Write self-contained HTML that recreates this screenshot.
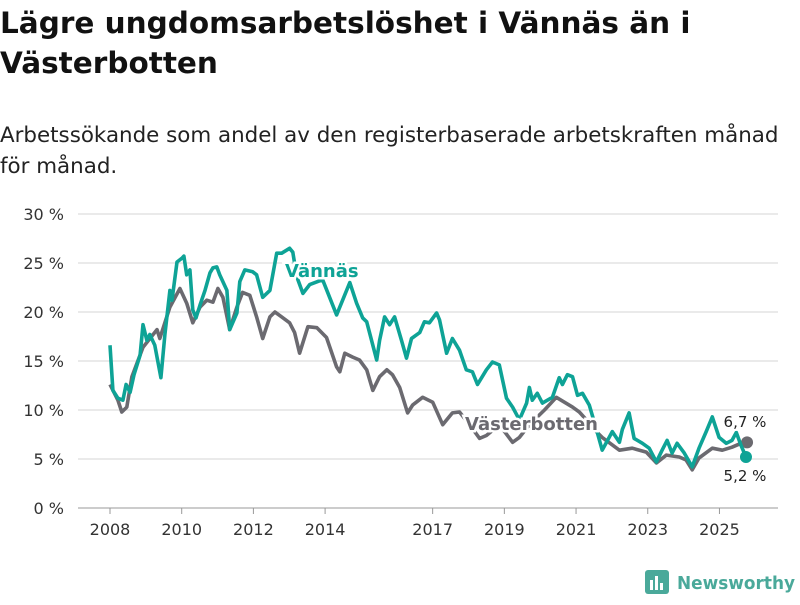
<!DOCTYPE html>
<html><head><meta charset="utf-8"><style>
body{margin:0;width:800px;height:600px;background:#fff;font-family:"Liberation Sans","DejaVu Sans",sans-serif;overflow:hidden}
</style></head><body>
<svg width="800" height="600" xmlns="http://www.w3.org/2000/svg" font-family="'DejaVu Sans','Liberation Sans',sans-serif">
<text x="0" y="33" font-size="29.5" font-weight="bold" fill="#111">Lägre ungdomsarbetslöshet i Vännäs än i</text>
<text x="0" y="73" font-size="29.5" font-weight="bold" fill="#111">Västerbotten</text>
<text x="0" y="142" font-size="21.4" fill="#222">Arbetssökande som andel av den registerbaserade arbetskraften månad</text>
<text x="0" y="173" font-size="21.4" fill="#222">för månad.</text>
<g id="grid"></g><g id="xaxis"></g><g id="series"></g><g id="labels"></g>
<g>
<rect x="645" y="570" width="24" height="24" rx="3" fill="#4aa99a"/>
<rect x="650" y="580" width="3" height="10" fill="#fff"/><rect x="655" y="576" width="3" height="14" fill="#fff"/><rect x="660" y="583" width="3" height="7" fill="#fff"/>
<text x="677" y="589" font-size="18" font-weight="bold" fill="#4aa99a" textLength="118" lengthAdjust="spacingAndGlyphs">Newsworthy</text></g>
</svg>
<script>
const yTicks=[0,5,10,15,20,25,30];
const xTicks=[2008,2010,2012,2014,2017,2019,2021,2023,2025];
const vDates=[2008.00,2008.08,2008.22,2008.36,2008.45,2008.56,2008.67,2008.84,2008.92,2009.03,2009.11,2009.25,2009.42,2009.53,2009.67,2009.73,2009.87,2010.01,2010.06,2010.14,2010.23,2010.31,2010.40,2010.51,2010.65,2010.79,2010.87,2010.98,2011.06,2011.26,2011.34,2011.54,2011.62,2011.76,2011.98,2012.09,2012.26,2012.46,2012.65,2012.79,2013.01,2013.10,2013.21,2013.38,2013.57,2013.93,2014.32,2014.69,2014.88,2015.05,2015.16,2015.44,2015.52,2015.66,2015.80,2015.94,2016.13,2016.27,2016.41,2016.64,2016.77,2016.91,2017.11,2017.19,2017.39,2017.55,2017.75,2017.94,2018.11,2018.25,2018.50,2018.67,2018.86,2019.06,2019.23,2019.42,2019.62,2019.70,2019.78,2019.92,2020.06,2020.34,2020.53,2020.62,2020.76,2020.90,2021.04,2021.18,2021.37,2021.57,2021.73,2022.01,2022.21,2022.29,2022.48,2022.62,2022.85,2023.04,2023.24,2023.40,2023.54,2023.68,2023.82,2024.02,2024.24,2024.43,2024.63,2024.80,2024.99,2025.19,2025.35,2025.47,2025.60,2025.74];
const vValues=[16.6,12.0,11.2,11.0,12.6,11.8,13.6,15.6,18.7,17.1,17.7,16.6,13.3,17.7,22.2,21.2,25.1,25.5,25.7,23.8,24.3,20.2,19.4,20.7,22.2,24.0,24.5,24.6,23.8,22.2,18.2,19.9,23.1,24.3,24.1,23.8,21.5,22.2,26.0,26.0,26.5,26.1,23.6,21.9,22.8,23.3,19.7,23.0,20.9,19.4,19.0,15.1,17.1,19.5,18.7,19.5,17.1,15.3,17.3,17.9,19.0,18.9,19.9,19.2,15.8,17.3,16.1,14.1,13.9,12.6,14.1,14.9,14.6,11.2,10.3,9.0,10.7,12.3,11.0,11.7,10.7,11.3,13.3,12.6,13.6,13.4,11.5,11.7,10.5,8.0,5.9,7.8,6.7,8.0,9.7,7.1,6.6,6.1,4.7,5.9,6.9,5.6,6.6,5.6,4.2,6.1,7.8,9.3,7.2,6.6,6.9,7.7,6.4,5.2];
const gDates=[2008.00,2008.22,2008.33,2008.47,2008.61,2008.92,2009.31,2009.39,2009.67,2009.95,2010.14,2010.31,2010.51,2010.70,2010.87,2011.01,2011.15,2011.34,2011.54,2011.70,2011.90,2012.09,2012.26,2012.46,2012.60,2012.79,2013.01,2013.15,2013.29,2013.52,2013.77,2014.04,2014.32,2014.41,2014.55,2014.77,2014.96,2015.16,2015.33,2015.52,2015.72,2015.88,2016.08,2016.30,2016.44,2016.72,2017.00,2017.28,2017.55,2017.75,2018.03,2018.31,2018.50,2018.86,2019.23,2019.42,2019.70,2020.12,2020.45,2020.90,2021.09,2021.29,2021.51,2021.73,2022.21,2022.57,2022.96,2023.24,2023.52,2023.88,2024.07,2024.24,2024.43,2024.80,2025.08,2025.35,2025.60,2025.77];
const gValues=[12.6,11.0,9.8,10.3,13.4,16.4,18.2,17.3,20.5,22.4,20.9,18.9,20.5,21.2,21.0,22.4,21.5,18.2,20.5,22.0,21.7,19.5,17.3,19.5,20.0,19.5,18.9,17.9,15.8,18.5,18.4,17.4,14.4,13.9,15.8,15.4,15.1,14.1,12.0,13.4,14.1,13.6,12.3,9.7,10.5,11.3,10.8,8.5,9.7,9.8,8.5,7.1,7.4,8.5,6.7,7.2,8.5,10.0,11.3,10.3,9.8,9.0,8.0,7.2,5.9,6.1,5.7,4.6,5.4,5.2,4.9,3.9,5.1,6.1,5.9,6.2,6.6,6.7];
const NS="http://www.w3.org/2000/svg";
const X=t=>110+(t-2008)*35.85;
const Y=v=>508-v*9.8;
function mk(tag,attrs,parent){const e=document.createElementNS(NS,tag);for(const k in attrs)e.setAttribute(k,attrs[k]);document.getElementById(parent).appendChild(e);return e;}
yTicks.forEach(v=>{
  const l=mk('line',{x1:78,x2:778,y1:Y(v),y2:Y(v),stroke:v===0?'#bbb':'#ddd','stroke-width':v===0?1.5:1.2},'grid');
  
  
  const t=mk('text',{x:64,y:Y(v)+6,'font-size':16,fill:'#333','text-anchor':'end'},'grid');
  t.textContent=v+' %';
  
  
});
xTicks.forEach(yr=>{
  const l=mk('line',{x1:X(yr),x2:X(yr),y1:508,y2:514,stroke:'#999'},'xaxis');
  
  
  const t=mk('text',{x:X(yr),y:535,'font-size':16,fill:'#333','text-anchor':'middle'},'xaxis');
  t.textContent=yr;
  
  
});
function line(d,v,color,name){
  const p=d.map((t,i)=>(i?'L':'M')+X(t).toFixed(1)+','+Y(v[i]).toFixed(1)).join('');
  const e=mk('path',{d:p,fill:'none',stroke:color,'stroke-width':3.6,'stroke-linejoin':'round'},'series');
  
  
  const c=mk('circle',{cx:X(d[d.length-1]),cy:Y(v[v.length-1]),r:6,fill:color},'series');
  
  
}
line(gDates,gValues,'#6b6a70','vasterbotten');
line(vDates,vValues,'#0ea396','vannas');
function label(txt,x,y,color,name,size,bold,anchor){
  const t=mk('text',{x:x,y:y,'font-size':size,'font-weight':bold?'bold':'normal',fill:color,stroke:'#fff','stroke-width':bold?5:4,'paint-order':'stroke','text-anchor':anchor||'start'},'labels');
  t.textContent=txt;
  
  
}
label('Vännäs',285,277,'#0ea396','vannas-label',18,true);
label('Västerbotten',465,430,'#6b6a70','vasterbotten-label',18,true);
label(vValues[vValues.length-1].toFixed(1).replace('.',',')+' %',745,481,'#222','vannas-end-value',15,false,'middle');
label(gValues[gValues.length-1].toFixed(1).replace('.',',')+' %',745,427,'#222','vasterbotten-end-value',15,false,'middle');
</script>
</body></html>
